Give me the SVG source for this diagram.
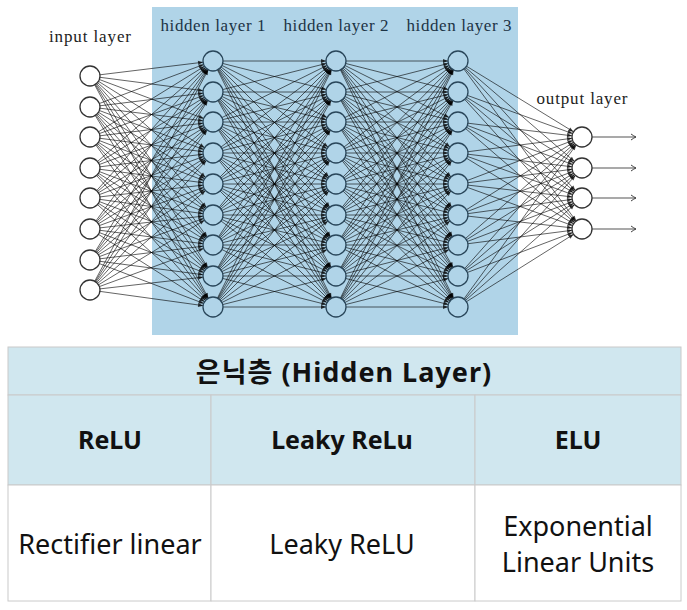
<svg xmlns="http://www.w3.org/2000/svg" width="687" height="610" viewBox="0 0 687 610">
<style>
.e path{fill:none;stroke:#000;stroke-opacity:.68;stroke-width:.9;marker-end:url(#a)}
.o path{fill:none;stroke:#555;stroke-width:1.1;marker-end:url(#b)}
.w{fill:#fff;stroke:#333;stroke-width:1.3}
.h{fill:#b0d4e8;stroke:#29465a;stroke-width:1.3}
.lbl{font-family:"Liberation Serif","DejaVu Serif",serif;font-size:17px;fill:#222;text-anchor:middle}
.hl{fill:#1c3345}
.cell{stroke:#cacaca;stroke-width:1}
.tt{font-family:"Noto Sans","Noto Sans CJK KR",sans-serif;fill:#111;text-anchor:middle}
.b{font-weight:bold;font-size:25px}
.r{font-size:27px}
</style>
<defs>
<marker id="a" markerUnits="userSpaceOnUse" markerWidth="20" markerHeight="10" refX="15" refY="5" orient="auto" overflow="visible"><path d="M0 3L5 5L0 7z" fill="#000" fill-opacity=".75"/></marker>
<marker id="b" markerUnits="userSpaceOnUse" markerWidth="10" markerHeight="10" refX="6" refY="4" orient="auto" overflow="visible"><path d="M1 1Q4 3.2 6 4Q4 4.8 1 7" fill="none" stroke="#444" stroke-width="1"/></marker>
</defs>
<rect id="hidden-panel" x="152" y="7" width="366" height="328" fill="#b0d4e8"/>
<g id="connectors" class="e">
<path d="M90 76 213 61"/><path d="M90 76 213 92"/><path d="M90 76 213 122"/><path d="M90 76 213 153"/><path d="M90 76 213 184"/><path d="M90 76 213 215"/><path d="M90 76 213 245"/><path d="M90 76 213 276"/><path d="M90 76 213 307"/>
<path d="M90 107 213 61"/><path d="M90 107 213 92"/><path d="M90 107 213 122"/><path d="M90 107 213 153"/><path d="M90 107 213 184"/><path d="M90 107 213 215"/><path d="M90 107 213 245"/><path d="M90 107 213 276"/><path d="M90 107 213 307"/>
<path d="M90 137 213 61"/><path d="M90 137 213 92"/><path d="M90 137 213 122"/><path d="M90 137 213 153"/><path d="M90 137 213 184"/><path d="M90 137 213 215"/><path d="M90 137 213 245"/><path d="M90 137 213 276"/><path d="M90 137 213 307"/>
<path d="M90 168 213 61"/><path d="M90 168 213 92"/><path d="M90 168 213 122"/><path d="M90 168 213 153"/><path d="M90 168 213 184"/><path d="M90 168 213 215"/><path d="M90 168 213 245"/><path d="M90 168 213 276"/><path d="M90 168 213 307"/>
<path d="M90 198 213 61"/><path d="M90 198 213 92"/><path d="M90 198 213 122"/><path d="M90 198 213 153"/><path d="M90 198 213 184"/><path d="M90 198 213 215"/><path d="M90 198 213 245"/><path d="M90 198 213 276"/><path d="M90 198 213 307"/>
<path d="M90 229 213 61"/><path d="M90 229 213 92"/><path d="M90 229 213 122"/><path d="M90 229 213 153"/><path d="M90 229 213 184"/><path d="M90 229 213 215"/><path d="M90 229 213 245"/><path d="M90 229 213 276"/><path d="M90 229 213 307"/>
<path d="M90 260 213 61"/><path d="M90 260 213 92"/><path d="M90 260 213 122"/><path d="M90 260 213 153"/><path d="M90 260 213 184"/><path d="M90 260 213 215"/><path d="M90 260 213 245"/><path d="M90 260 213 276"/><path d="M90 260 213 307"/>
<path d="M90 290 213 61"/><path d="M90 290 213 92"/><path d="M90 290 213 122"/><path d="M90 290 213 153"/><path d="M90 290 213 184"/><path d="M90 290 213 215"/><path d="M90 290 213 245"/><path d="M90 290 213 276"/><path d="M90 290 213 307"/>
<path d="M213 61 336 61"/><path d="M213 61 336 92"/><path d="M213 61 336 122"/><path d="M213 61 336 153"/><path d="M213 61 336 184"/><path d="M213 61 336 215"/><path d="M213 61 336 245"/><path d="M213 61 336 276"/><path d="M213 61 336 307"/>
<path d="M213 92 336 61"/><path d="M213 92 336 92"/><path d="M213 92 336 122"/><path d="M213 92 336 153"/><path d="M213 92 336 184"/><path d="M213 92 336 215"/><path d="M213 92 336 245"/><path d="M213 92 336 276"/><path d="M213 92 336 307"/>
<path d="M213 122 336 61"/><path d="M213 122 336 92"/><path d="M213 122 336 122"/><path d="M213 122 336 153"/><path d="M213 122 336 184"/><path d="M213 122 336 215"/><path d="M213 122 336 245"/><path d="M213 122 336 276"/><path d="M213 122 336 307"/>
<path d="M213 153 336 61"/><path d="M213 153 336 92"/><path d="M213 153 336 122"/><path d="M213 153 336 153"/><path d="M213 153 336 184"/><path d="M213 153 336 215"/><path d="M213 153 336 245"/><path d="M213 153 336 276"/><path d="M213 153 336 307"/>
<path d="M213 184 336 61"/><path d="M213 184 336 92"/><path d="M213 184 336 122"/><path d="M213 184 336 153"/><path d="M213 184 336 184"/><path d="M213 184 336 215"/><path d="M213 184 336 245"/><path d="M213 184 336 276"/><path d="M213 184 336 307"/>
<path d="M213 215 336 61"/><path d="M213 215 336 92"/><path d="M213 215 336 122"/><path d="M213 215 336 153"/><path d="M213 215 336 184"/><path d="M213 215 336 215"/><path d="M213 215 336 245"/><path d="M213 215 336 276"/><path d="M213 215 336 307"/>
<path d="M213 245 336 61"/><path d="M213 245 336 92"/><path d="M213 245 336 122"/><path d="M213 245 336 153"/><path d="M213 245 336 184"/><path d="M213 245 336 215"/><path d="M213 245 336 245"/><path d="M213 245 336 276"/><path d="M213 245 336 307"/>
<path d="M213 276 336 61"/><path d="M213 276 336 92"/><path d="M213 276 336 122"/><path d="M213 276 336 153"/><path d="M213 276 336 184"/><path d="M213 276 336 215"/><path d="M213 276 336 245"/><path d="M213 276 336 276"/><path d="M213 276 336 307"/>
<path d="M213 307 336 61"/><path d="M213 307 336 92"/><path d="M213 307 336 122"/><path d="M213 307 336 153"/><path d="M213 307 336 184"/><path d="M213 307 336 215"/><path d="M213 307 336 245"/><path d="M213 307 336 276"/><path d="M213 307 336 307"/>
<path d="M336 61 458 61"/><path d="M336 61 458 92"/><path d="M336 61 458 122"/><path d="M336 61 458 153"/><path d="M336 61 458 184"/><path d="M336 61 458 215"/><path d="M336 61 458 245"/><path d="M336 61 458 276"/><path d="M336 61 458 307"/>
<path d="M336 92 458 61"/><path d="M336 92 458 92"/><path d="M336 92 458 122"/><path d="M336 92 458 153"/><path d="M336 92 458 184"/><path d="M336 92 458 215"/><path d="M336 92 458 245"/><path d="M336 92 458 276"/><path d="M336 92 458 307"/>
<path d="M336 122 458 61"/><path d="M336 122 458 92"/><path d="M336 122 458 122"/><path d="M336 122 458 153"/><path d="M336 122 458 184"/><path d="M336 122 458 215"/><path d="M336 122 458 245"/><path d="M336 122 458 276"/><path d="M336 122 458 307"/>
<path d="M336 153 458 61"/><path d="M336 153 458 92"/><path d="M336 153 458 122"/><path d="M336 153 458 153"/><path d="M336 153 458 184"/><path d="M336 153 458 215"/><path d="M336 153 458 245"/><path d="M336 153 458 276"/><path d="M336 153 458 307"/>
<path d="M336 184 458 61"/><path d="M336 184 458 92"/><path d="M336 184 458 122"/><path d="M336 184 458 153"/><path d="M336 184 458 184"/><path d="M336 184 458 215"/><path d="M336 184 458 245"/><path d="M336 184 458 276"/><path d="M336 184 458 307"/>
<path d="M336 215 458 61"/><path d="M336 215 458 92"/><path d="M336 215 458 122"/><path d="M336 215 458 153"/><path d="M336 215 458 184"/><path d="M336 215 458 215"/><path d="M336 215 458 245"/><path d="M336 215 458 276"/><path d="M336 215 458 307"/>
<path d="M336 245 458 61"/><path d="M336 245 458 92"/><path d="M336 245 458 122"/><path d="M336 245 458 153"/><path d="M336 245 458 184"/><path d="M336 245 458 215"/><path d="M336 245 458 245"/><path d="M336 245 458 276"/><path d="M336 245 458 307"/>
<path d="M336 276 458 61"/><path d="M336 276 458 92"/><path d="M336 276 458 122"/><path d="M336 276 458 153"/><path d="M336 276 458 184"/><path d="M336 276 458 215"/><path d="M336 276 458 245"/><path d="M336 276 458 276"/><path d="M336 276 458 307"/>
<path d="M336 307 458 61"/><path d="M336 307 458 92"/><path d="M336 307 458 122"/><path d="M336 307 458 153"/><path d="M336 307 458 184"/><path d="M336 307 458 215"/><path d="M336 307 458 245"/><path d="M336 307 458 276"/><path d="M336 307 458 307"/>
<path d="M458 61 582 137"/><path d="M458 61 582 168"/><path d="M458 61 582 198"/><path d="M458 61 582 229"/>
<path d="M458 92 582 137"/><path d="M458 92 582 168"/><path d="M458 92 582 198"/><path d="M458 92 582 229"/>
<path d="M458 122 582 137"/><path d="M458 122 582 168"/><path d="M458 122 582 198"/><path d="M458 122 582 229"/>
<path d="M458 153 582 137"/><path d="M458 153 582 168"/><path d="M458 153 582 198"/><path d="M458 153 582 229"/>
<path d="M458 184 582 137"/><path d="M458 184 582 168"/><path d="M458 184 582 198"/><path d="M458 184 582 229"/>
<path d="M458 215 582 137"/><path d="M458 215 582 168"/><path d="M458 215 582 198"/><path d="M458 215 582 229"/>
<path d="M458 245 582 137"/><path d="M458 245 582 168"/><path d="M458 245 582 198"/><path d="M458 245 582 229"/>
<path d="M458 276 582 137"/><path d="M458 276 582 168"/><path d="M458 276 582 198"/><path d="M458 276 582 229"/>
<path d="M458 307 582 137"/><path d="M458 307 582 168"/><path d="M458 307 582 198"/><path d="M458 307 582 229"/>
</g>
<g id="outputs-arrows" class="o">
<path d="M592 137H636"/><path d="M592 168H636"/><path d="M592 198H636"/><path d="M592 229H636"/>
</g>
<g id="input-layer">
<text class="lbl" x="90" y="42" textLength="82">input layer</text>
<g id="in1"><circle class="w" cx="90" cy="76" r="10"/></g>
<g id="in2"><circle class="w" cx="90" cy="107" r="10"/></g>
<g id="in3"><circle class="w" cx="90" cy="137" r="10"/></g>
<g id="in4"><circle class="w" cx="90" cy="168" r="10"/></g>
<g id="in5"><circle class="w" cx="90" cy="198" r="10"/></g>
<g id="in6"><circle class="w" cx="90" cy="229" r="10"/></g>
<g id="in7"><circle class="w" cx="90" cy="260" r="10"/></g>
<g id="in8"><circle class="w" cx="90" cy="290" r="10"/></g>
</g>
<g id="hidden-layer-1">
<text class="lbl hl" x="213" y="31" textLength="105">hidden layer 1</text>
<g id="h1n1"><circle class="h" cx="213" cy="61" r="10"/></g>
<g id="h1n2"><circle class="h" cx="213" cy="92" r="10"/></g>
<g id="h1n3"><circle class="h" cx="213" cy="122" r="10"/></g>
<g id="h1n4"><circle class="h" cx="213" cy="153" r="10"/></g>
<g id="h1n5"><circle class="h" cx="213" cy="184" r="10"/></g>
<g id="h1n6"><circle class="h" cx="213" cy="215" r="10"/></g>
<g id="h1n7"><circle class="h" cx="213" cy="245" r="10"/></g>
<g id="h1n8"><circle class="h" cx="213" cy="276" r="10"/></g>
<g id="h1n9"><circle class="h" cx="213" cy="307" r="10"/></g>
</g>
<g id="hidden-layer-2">
<text class="lbl hl" x="336" y="31" textLength="105">hidden layer 2</text>
<g id="h2n1"><circle class="h" cx="336" cy="61" r="10"/></g>
<g id="h2n2"><circle class="h" cx="336" cy="92" r="10"/></g>
<g id="h2n3"><circle class="h" cx="336" cy="122" r="10"/></g>
<g id="h2n4"><circle class="h" cx="336" cy="153" r="10"/></g>
<g id="h2n5"><circle class="h" cx="336" cy="184" r="10"/></g>
<g id="h2n6"><circle class="h" cx="336" cy="215" r="10"/></g>
<g id="h2n7"><circle class="h" cx="336" cy="245" r="10"/></g>
<g id="h2n8"><circle class="h" cx="336" cy="276" r="10"/></g>
<g id="h2n9"><circle class="h" cx="336" cy="307" r="10"/></g>
</g>
<g id="hidden-layer-3">
<text class="lbl hl" x="459" y="31" textLength="105">hidden layer 3</text>
<g id="h3n1"><circle class="h" cx="458" cy="61" r="10"/></g>
<g id="h3n2"><circle class="h" cx="458" cy="92" r="10"/></g>
<g id="h3n3"><circle class="h" cx="458" cy="122" r="10"/></g>
<g id="h3n4"><circle class="h" cx="458" cy="153" r="10"/></g>
<g id="h3n5"><circle class="h" cx="458" cy="184" r="10"/></g>
<g id="h3n6"><circle class="h" cx="458" cy="215" r="10"/></g>
<g id="h3n7"><circle class="h" cx="458" cy="245" r="10"/></g>
<g id="h3n8"><circle class="h" cx="458" cy="276" r="10"/></g>
<g id="h3n9"><circle class="h" cx="458" cy="307" r="10"/></g>
</g>
<g id="output-layer">
<text class="lbl" x="582" y="104" textLength="91">output layer</text>
<g id="out1"><circle class="w" cx="582" cy="137" r="10"/></g>
<g id="out2"><circle class="w" cx="582" cy="168" r="10"/></g>
<g id="out3"><circle class="w" cx="582" cy="198" r="10"/></g>
<g id="out4"><circle class="w" cx="582" cy="229" r="10"/></g>
</g>
<g id="table">
<g id="title-cell"><rect class="cell" x="8" y="347" width="673" height="48" fill="#d0e7ef"/><text class="tt" x="344" y="382" font-size="27" font-weight="bold" letter-spacing="1">은닉층 (Hidden Layer)</text></g>
<g id="head-relu"><rect class="cell" x="8" y="395" width="203" height="90" fill="#d0e7ef"/><text class="tt b" x="110" y="449">ReLU</text></g>
<g id="head-leaky"><rect class="cell" x="211" y="395" width="264" height="90" fill="#d0e7ef"/><text class="tt b" x="342" y="449">Leaky ReLu</text></g>
<g id="head-elu"><rect class="cell" x="475" y="395" width="206" height="90" fill="#d0e7ef"/><text class="tt b" x="578" y="449">ELU</text></g>
<g id="body-relu"><rect class="cell" x="8" y="485" width="203" height="116" fill="#fff"/><text class="tt r" x="110" y="554">Rectifier linear</text></g>
<g id="body-leaky"><rect class="cell" x="211" y="485" width="264" height="116" fill="#fff"/><text class="tt r" x="342" y="554">Leaky ReLU</text></g>
<g id="body-elu"><rect class="cell" x="475" y="485" width="206" height="116" fill="#fff"/><text class="tt r" x="578" y="536">Exponential</text><text class="tt r" x="578" y="572">Linear Units</text></g>
</g>
</svg>
